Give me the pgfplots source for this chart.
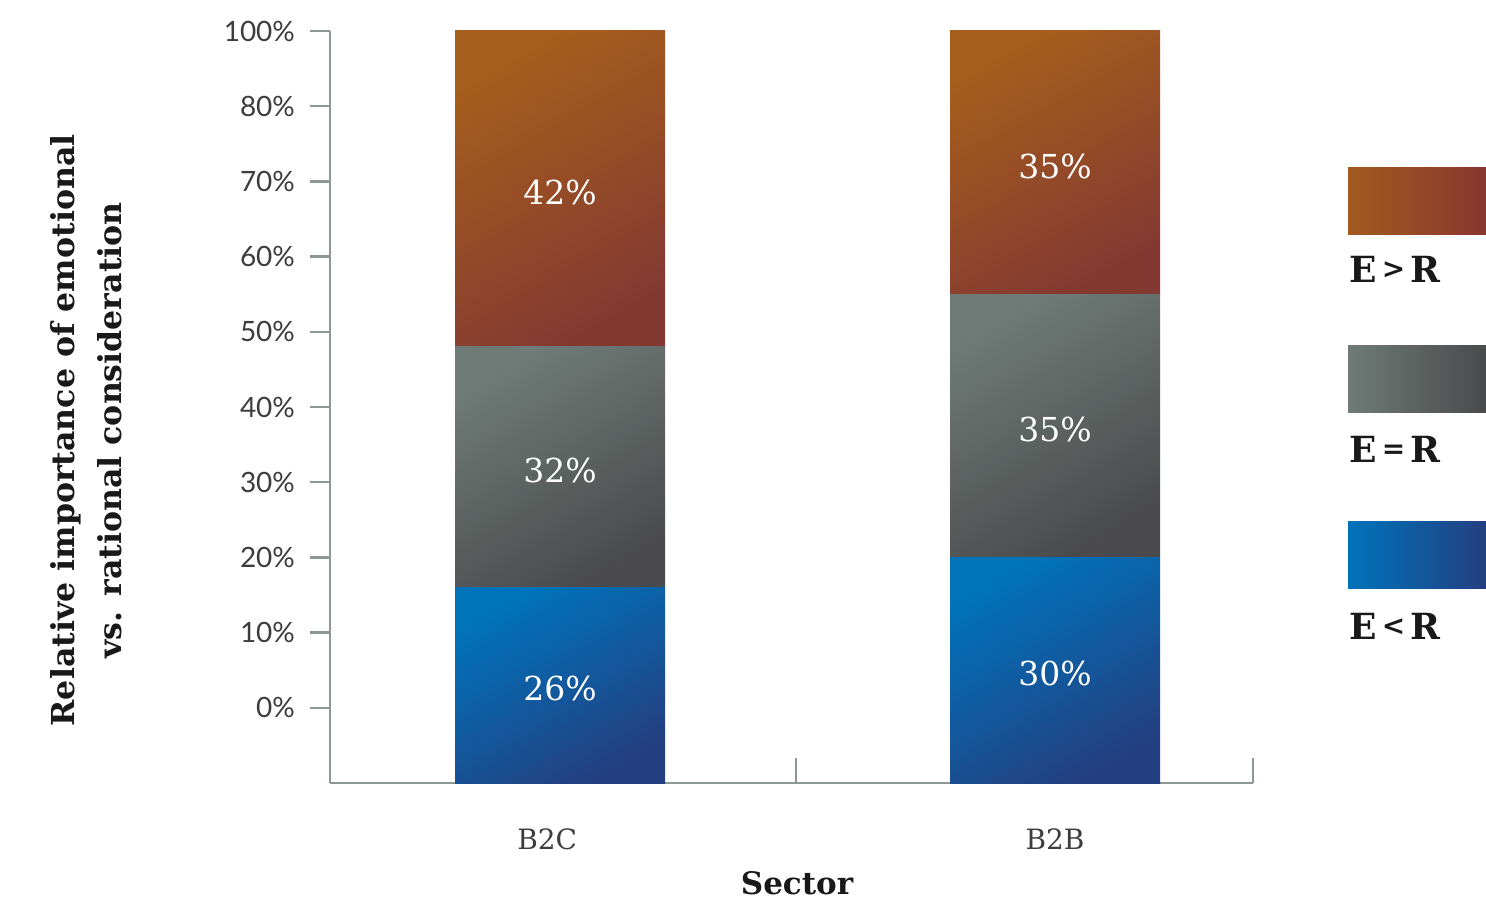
\documentclass[border=0pt]{standalone}
\usepackage{pgfplots}
\pgfplotsset{compat=1.18}
\usepackage{fontspec}
\setmainfont{DejaVu Serif}
\newfontfamily\ticksfont{Lato}

\definecolor{axisgray}{HTML}{8C9892}
\definecolor{tickgray}{HTML}{3D3D3D}
\definecolor{orTL}{HTML}{A65E1C}
\definecolor{orBR}{HTML}{833932}
\definecolor{grTL}{HTML}{6F7B76}
\definecolor{grBR}{HTML}{4A4A4C}
\definecolor{blTL}{HTML}{0073BB}
\definecolor{blBR}{HTML}{243F80}

\pgfplotsset{
  base/.style={
    scale only axis, width=461.5pt, height=376pt,
    at={(0,0)}, anchor=south west,
    xmin=0.535, xmax=2.4, ymin=0, ymax=100,
    ybar stacked, bar width=105pt, clip=false,
  },
  segor/.style={draw=none, top color=orTL, bottom color=orBR, shading angle=30},
  seggr/.style={draw=none, top color=grTL, bottom color=grBR, shading angle=30},
  segbl/.style={draw=none, top color=blTL, bottom color=blBR, shading angle=30},
}
\tikzset{barlab/.style={text=white, yshift=-1.8pt, font=\fontsize{16.5}{16.5}\selectfont}}
\newcommand\rel[1]{\hspace{2.5pt}\raisebox{2.1pt}{\fontsize{14}{14}\selectfont #1}\hspace{2.5pt}}

\begin{document}
\begin{tikzpicture}
\useasboundingbox (-165pt,-58pt) rectangle (578pt,391.5pt);

% B2C with the axis itself
\begin{axis}[base,
  axis lines=left,
  axis line style={draw=axisgray, line width=1.2pt, -},
  tick align=outside, major tick length=10pt,
  ytick={10,20,...,100},
  yticklabels={0\%,10\%,20\%,30\%,40\%,50\%,60\%,70\%,80\%,100\%},
  ytick style={draw=axisgray, line width=1.2pt},
  yticklabel style={font=\ticksfont\fontsize{14}{14}\selectfont, text=tickgray, xshift=-4pt},
  xtick={0.974,2},
  xticklabels={B2C,B2B},
  xtick style={draw=none},
  xticklabel style={font=\fontsize{14}{14}\selectfont, text=tickgray, yshift=-9.5pt},
  xlabel={Sector},
  xlabel style={font=\bfseries\fontsize{15.5}{15.5}\selectfont, text=black!90,
    at={(axis description cs:0.506,0)}, anchor=base, yshift=-55.5pt},
  ylabel={Relative importance of emotional\\vs. rational consideration},
  ylabel style={font=\bfseries\fontsize{15.8}{23.5}\selectfont, text=black!90,
    align=center, at={(axis description cs:-0.2638,0.469)}, anchor=center},
]
\addplot[segbl] coordinates {(1,26)};
\addplot[seggr] coordinates {(1,32)};
\addplot[segor] coordinates {(1,42)};
% category boundary ticks
\draw[axisgray, line width=1.2pt] (axis cs:1.477,0) -- ([yshift=12.5pt]axis cs:1.477,0);
\draw[axisgray, line width=1.2pt] (axis cs:2.4,0) -- ([yshift=12.5pt]axis cs:2.4,0);
\end{axis}

% B2B
\begin{axis}[base, hide axis]
\addplot[segbl] coordinates {(2,30)};
\addplot[seggr] coordinates {(2,35)};
\addplot[segor] coordinates {(2,35)};
\end{axis}

% value labels on top of the bars
\begin{axis}[base, hide axis]
\node[barlab] at (axis cs:1,13) {26\%};
\node[barlab] at (axis cs:1,42) {32\%};
\node[barlab] at (axis cs:1,79) {42\%};
\node[barlab] at (axis cs:2,15) {30\%};
\node[barlab] at (axis cs:2,47.5) {35\%};
\node[barlab] at (axis cs:2,82.5) {35\%};
\end{axis}

% legend
\fill[left color=orTL!90!orBR, right color=orBR!95!red] (509pt,274pt) rectangle (578pt,307.5pt);
\fill[left color=grTL, right color=grBR] (509pt,185pt) rectangle (578pt,218.5pt);
\fill[left color=blTL, right color=blBR] (509pt,97pt) rectangle (578pt,130.5pt);
\begin{scope}[every node/.style={anchor=base west, inner sep=0pt, text=black!90,
    font=\bfseries\fontsize{18}{18}\selectfont}]
\node at (509.5pt,250pt) {E\rel{>}R};
\node at (509.5pt,160pt) {E\rel{=}R};
\node at (509.5pt,71.5pt) {E\rel{<}R};
\end{scope}
\end{tikzpicture}
\end{document}
